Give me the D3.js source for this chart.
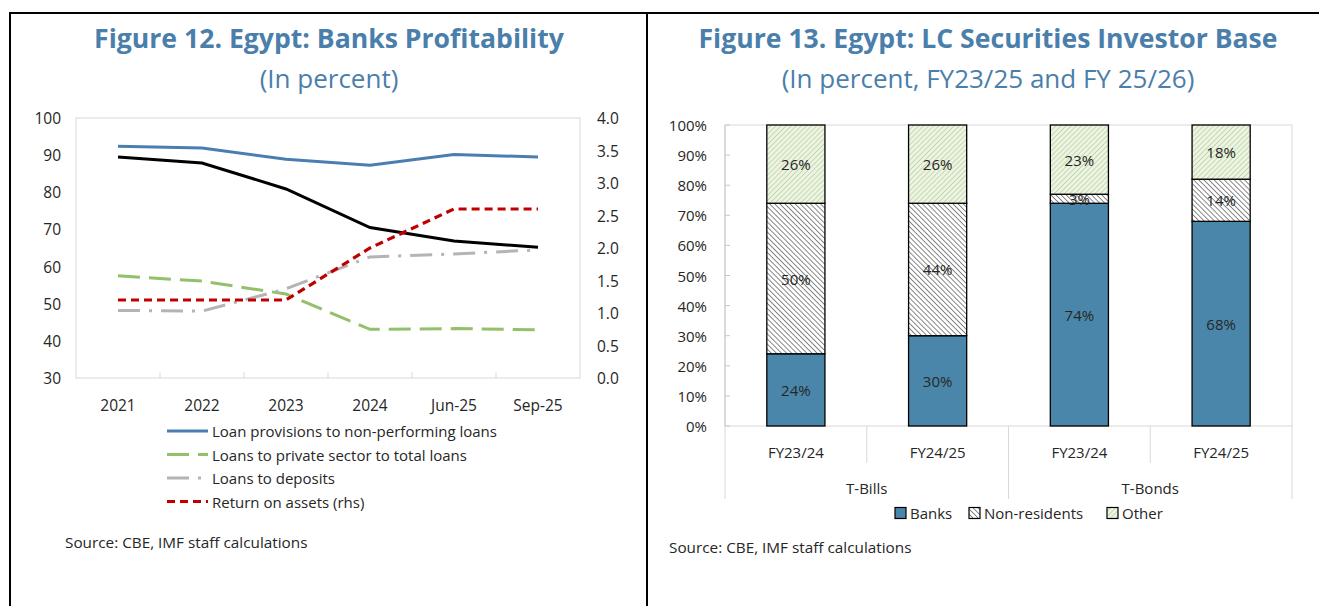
<!DOCTYPE html>
<html>
<head>
<meta charset="utf-8">
<script src="https://cdn.jsdelivr.net/npm/d3@7"></script>
<style>
    body { margin: 0; background: #fff; }
    text { font-family: "Open Sans", "Noto Sans", sans-serif; fill: #262626; }
    .title { fill: #4a7eab; font-weight: 700; font-size: 26.6px; }
    .subtitle { fill: #4a7eab; font-size: 26px; }
</style>
</head>
<body>
<svg id="chart" width="1319" height="606"></svg>
<script>
'use strict';

// figure 12 data
var years = ['2021', '2022', '2023', '2024', 'Jun-25', 'Sep-25'];
var provisionsNpl = [92.4, 91.9, 88.9, 87.3, 90.2, 89.5];
var privateLoans = [57.5, 56.1, 52.6, 43.1, 43.3, 43.0];
var loansDeposits = [48.2, 48.0, 54.0, 62.6, 63.4, 64.5];
var roa = [1.2, 1.2, 1.2, 2.0, 2.6, 2.6];
var blackLine = [89.5, 87.9, 80.9, 70.5, 66.9, 65.2];
var leftTicks = [30, 40, 50, 60, 70, 80, 90, 100];
var rightTicks = [0, 0.5, 1, 1.5, 2, 2.5, 3, 3.5, 4];

// figure 13 data
var periods = ['FY23/24', 'FY24/25', 'FY23/24', 'FY24/25'];
var instruments = ['T-Bills', 'T-Bonds'];
var banks = [24, 30, 74, 68];
var nonResidents = [50, 44, 3, 14];
var other = [26, 26, 23, 18];
var holderNames = ['Banks', 'Non-residents', 'Other'];
var pctTicks = [0, 10, 20, 30, 40, 50, 60, 70, 80, 90, 100];

var svg = d3.select('#chart');

//hatch patterns for bars
var defs = svg.append('defs');
function hatch(id, bg, fg, angle, gap) {
    var p = defs.append('pattern')
        .attr('id', id)
        .attr('patternUnits', 'userSpaceOnUse')
        .attr('width', gap).attr('height', gap)
        .attr('patternTransform', 'rotate(' + angle + ')');
    p.append('rect').attr('width', gap).attr('height', gap).attr('fill', bg);
    p.append('line').attr('x1', 0).attr('y1', 0).attr('x2', 0).attr('y2', gap)
        .attr('stroke', fg).attr('stroke-width', 1.2);
}
hatch('hatch-nonres', '#ffffff', '#3a3a3a', -45, 3.6);
hatch('hatch-other', '#eef4e4', '#a9c98a', 45, 3.6);

//outer frame
svg.append('line').attr('x1', 10).attr('x2', 1319).attr('y1', 13).attr('y2', 13)
    .attr('stroke', '#000').attr('stroke-width', 2);
svg.append('line').attr('x1', 10).attr('x2', 10).attr('y1', 12).attr('y2', 606)
    .attr('stroke', '#000').attr('stroke-width', 2);
svg.append('line').attr('x1', 647).attr('x2', 647).attr('y1', 12).attr('y2', 606)
    .attr('stroke', '#000').attr('stroke-width', 2);

//---------- figure 12 ----------
var left = svg.append('g');
left.append('text').attr('class', 'title').attr('x', 329).attr('y', 38)
    .attr('text-anchor', 'middle').attr('dominant-baseline', 'central')
    .text('Figure 12. Egypt: Banks Profitability');
left.append('text').attr('class', 'subtitle').attr('x', 329).attr('y', 78)
    .attr('text-anchor', 'middle').attr('dominant-baseline', 'central')
    .text('(In percent)');

var p1 = { x0: 76, x1: 580, y0: 118, y1: 378 };
var x1 = d3.scaleBand().domain(years).range([p1.x0, p1.x1]);
var yL = d3.scaleLinear().domain([30, 100]).range([p1.y1, p1.y0]);
var yR = d3.scaleLinear().domain([0, 4]).range([p1.y1, p1.y0]);

left.append('rect')
    .attr('x', p1.x0).attr('y', p1.y0)
    .attr('width', p1.x1 - p1.x0).attr('height', p1.y1 - p1.y0)
    .attr('fill', 'none').attr('stroke', '#d9d9d9').attr('stroke-width', 1);

//tick marks between categories
left.selectAll('.cat-tick').data(years.slice(1)).enter().append('line')
    .attr('x1', function (d) { return x1(d); })
    .attr('x2', function (d) { return x1(d); })
    .attr('y1', p1.y1).attr('y2', p1.y1 - 6)
    .attr('stroke', '#d9d9d9');

left.selectAll('.yl').data(leftTicks).enter().append('text')
    .attr('x', 61).attr('y', function (d) { return yL(d); })
    .attr('text-anchor', 'end').attr('dominant-baseline', 'central')
    .style('font-size', '15.5px')
    .text(function (d) { return d; });

left.selectAll('.yr').data(rightTicks).enter().append('text')
    .attr('x', 597).attr('y', function (d) { return yR(d); })
    .attr('dominant-baseline', 'central')
    .style('font-size', '15.5px')
    .text(function (d) { return d.toFixed(1); });

left.selectAll('.xl').data(years).enter().append('text')
    .attr('x', function (d) { return x1(d) + x1.bandwidth() / 2; })
    .attr('y', 405)
    .attr('text-anchor', 'middle').attr('dominant-baseline', 'central')
    .style('font-size', '15.5px')
    .text(function (d) { return d; });

var series = [
    { name: 'Loan provisions to non-performing loans', values: provisionsNpl, y: yL,
        color: '#4a7eb0', dash: null, width: 3 },
    { name: 'Loans to private sector to total loans', values: privateLoans, y: yL,
        color: '#93c06a', dash: '22,9', width: 3 },
    { name: 'Loans to deposits', values: loansDeposits, y: yL,
        color: '#b4b4b4', dash: '22,9,3,9', width: 3 },
    { name: 'Return on assets (rhs)', values: roa, y: yR,
        color: '#c00000', dash: '8,5', width: 3.2 }
];
var unlabelledSeries = { values: blackLine, y: yL, color: '#000', dash: null, width: 3 };

function drawSeries(s) {
    var line = d3.line()
        .x(function (d, i) { return x1(years[i]) + x1.bandwidth() / 2; })
        .y(function (d) { return s.y(d); });
    left.append('path')
        .datum(s.values)
        .attr('d', line)
        .attr('fill', 'none')
        .attr('stroke', s.color)
        .attr('stroke-width', s.width)
        .attr('stroke-dasharray', s.dash);
}
drawSeries(unlabelledSeries);
series.forEach(drawSeries);

//legend
var lg = left.selectAll('.lg').data(series).enter().append('g')
    .attr('transform', function (d, i) { return 'translate(0,' + (431 + i * 23.5) + ')'; });
lg.append('line')
    .attr('x1', 167).attr('x2', 208).attr('y1', 0).attr('y2', 0)
    .attr('stroke', function (d) { return d.color; })
    .attr('stroke-width', function (d) { return d.width; })
    .attr('stroke-dasharray', function (d) { return d.dash; });
lg.append('text')
    .attr('x', 212).attr('y', 0).attr('dominant-baseline', 'central')
    .style('font-size', '15px')
    .text(function (d) { return d.name; });

left.append('text').attr('x', 65).attr('y', 542).attr('dominant-baseline', 'central')
    .style('font-size', '15.3px')
    .text('Source: CBE, IMF staff calculations');

//---------- figure 13 ----------
var right = svg.append('g');
right.append('text').attr('class', 'title').attr('x', 988).attr('y', 38)
    .attr('text-anchor', 'middle').attr('dominant-baseline', 'central')
    .text('Figure 13. Egypt: LC Securities Investor Base');
right.append('text').attr('class', 'subtitle').attr('x', 988).attr('y', 78)
    .attr('text-anchor', 'middle').attr('dominant-baseline', 'central')
    .text('(In percent, FY23/25 and FY 25/26)');

var p2 = { x0: 725, x1: 1292, y0: 125, y1: 426 };
var xb = d3.scaleBand().domain(d3.range(periods.length)).range([p2.x0, p2.x1])
    .paddingInner(0.59).paddingOuter(0.295);
var yp = d3.scaleLinear().domain([0, 100]).range([p2.y1, p2.y0]);
var step = (p2.x1 - p2.x0) / periods.length;

right.append('rect')
    .attr('x', p2.x0).attr('y', p2.y0)
    .attr('width', p2.x1 - p2.x0).attr('height', p2.y1 - p2.y0)
    .attr('fill', 'none').attr('stroke', '#d9d9d9');
right.append('line').attr('x1', p2.x0).attr('x2', p2.x0).attr('y1', p2.y0).attr('y2', p2.y1)
    .attr('stroke', '#c8c8c8');

right.selectAll('.ytick').data(pctTicks).enter().append('line')
    .attr('x1', p2.x0).attr('x2', p2.x0 + 5)
    .attr('y1', function (d) { return yp(d); })
    .attr('y2', function (d) { return yp(d); })
    .attr('stroke', '#c8c8c8');
right.selectAll('.yl').data(pctTicks).enter().append('text')
    .attr('x', 707).attr('y', function (d) { return yp(d); })
    .attr('text-anchor', 'end').attr('dominant-baseline', 'central')
    .style('font-size', '15px')
    .text(function (d) { return d + '%'; });

//category separators below axis
right.selectAll('.sep').data(d3.range(periods.length + 1)).enter().append('line')
    .attr('x1', function (d) { return p2.x0 + d * step; })
    .attr('x2', function (d) { return p2.x0 + d * step; })
    .attr('y1', p2.y1)
    .attr('y2', function (d) { return d % 2 === 0 ? 499 : 463; })
    .attr('stroke', '#d9d9d9');

right.selectAll('.xl').data(periods).enter().append('text')
    .attr('x', function (d, i) { return xb(i) + xb.bandwidth() / 2; })
    .attr('y', 452).attr('text-anchor', 'middle').attr('dominant-baseline', 'central')
    .style('font-size', '15px')
    .text(function (d) { return d; });
right.selectAll('.gl').data(instruments).enter().append('text')
    .attr('x', function (d, i) { return p2.x0 + (i * 2 + 1) * step; })
    .attr('y', 488).attr('text-anchor', 'middle').attr('dominant-baseline', 'central')
    .style('font-size', '15px')
    .text(function (d) { return d; });

var rows = periods.map(function (p, i) {
    return { Banks: banks[i], 'Non-residents': nonResidents[i], Other: other[i] };
});
var stacked = d3.stack().keys(holderNames)(rows);
var fills = { 'Banks': '#4a86aa', 'Non-residents': 'url(#hatch-nonres)', 'Other': 'url(#hatch-other)' };

stacked.forEach(function (layer) {
    var g = right.append('g');
    g.selectAll('rect').data(layer).enter().append('rect')
        .attr('x', function (d, i) { return xb(i); })
        .attr('y', function (d) { return yp(d[1]); })
        .attr('width', xb.bandwidth())
        .attr('height', function (d) { return yp(d[0]) - yp(d[1]); })
        .attr('fill', fills[layer.key])
        .attr('stroke', '#000').attr('stroke-width', 1.3);
});
stacked.forEach(function (layer) {
    right.selectAll('.lbl-' + layer.index).data(layer).enter().append('text')
        .attr('x', function (d, i) { return xb(i) + xb.bandwidth() / 2; })
        .attr('y', function (d) { return yp((d[0] + d[1]) / 2); })
        .attr('text-anchor', 'middle').attr('dominant-baseline', 'central')
        .style('font-size', '15px')
        .text(function (d) { return (d[1] - d[0]) + '%'; });
});

//bar legend
var legX = [{ sq: 895, tx: 910 }, { sq: 969, tx: 984 }, { sq: 1107, tx: 1122 }];
var bl = right.selectAll('.bl').data(holderNames).enter().append('g')
    .attr('transform', 'translate(0,513)');
bl.append('rect')
    .attr('x', function (d, i) { return legX[i].sq; }).attr('y', -5.5)
    .attr('width', 11).attr('height', 11)
    .attr('fill', function (d) { return fills[d]; })
    .attr('stroke', '#000').attr('stroke-width', 1.2);
bl.append('text')
    .attr('x', function (d, i) { return legX[i].tx; }).attr('y', 0)
    .attr('dominant-baseline', 'central')
    .style('font-size', '15px')
    .text(function (d) { return d; });

right.append('text').attr('x', 669).attr('y', 547).attr('dominant-baseline', 'central')
    .style('font-size', '15.3px')
    .text('Source: CBE, IMF staff calculations');
</script>
</body>
</html>
